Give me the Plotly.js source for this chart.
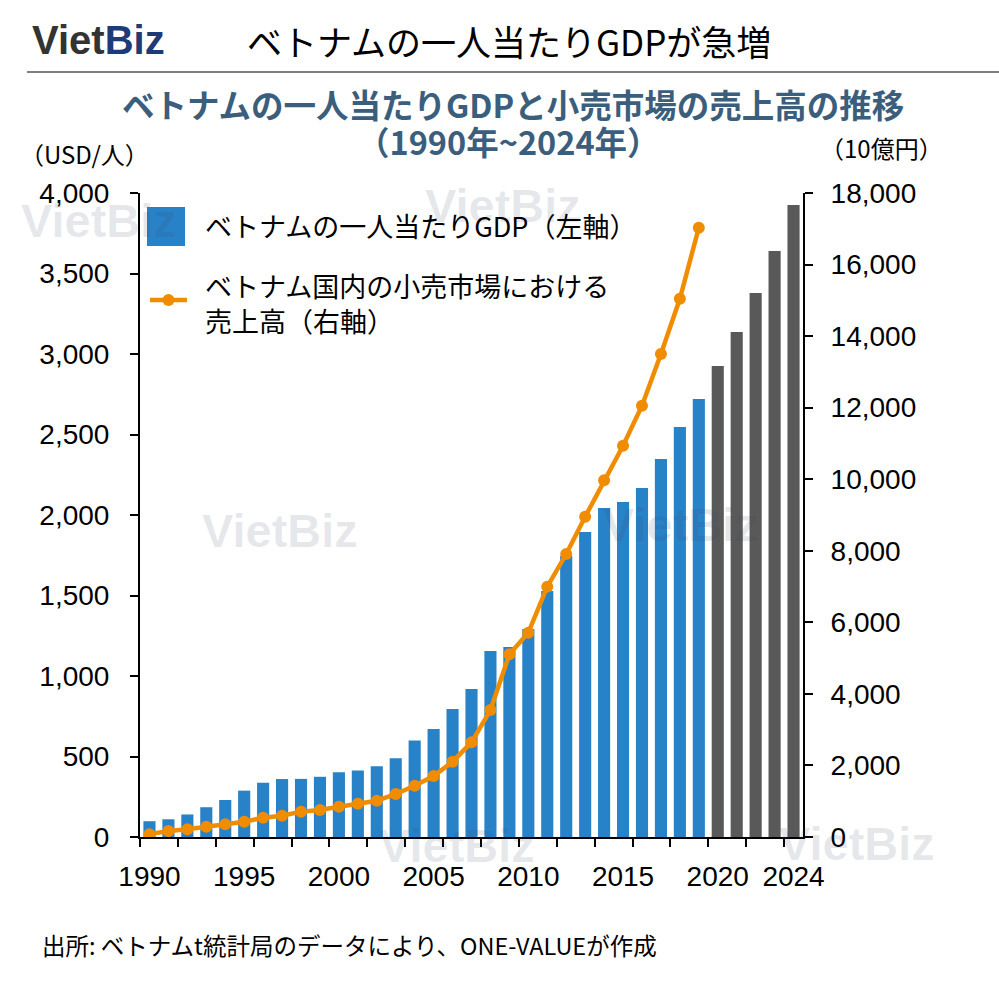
<!DOCTYPE html>
<html><head><meta charset="utf-8">
<script src="https://cdn.plot.ly/plotly-3.0.1.min.js"></script>
<style>html,body{margin:0;padding:0;background:#fff}</style>
</head><body><div id="chart" style="width:999px;height:983px"></div>
<script>
// ---- data ----
const years = [1990,1991,1992,1993,1994,1995,1996,1997,1998,1999,2000,2001,2002,2003,2004,2005,2006,2007,2008,2009,2010,2011,2012,2013,2014,2015,2016,2017,2018,2019,2020,2021,2022,2023,2024];
const gdpPerCapita = [98,110,140,185,230,288,337,360,361,374,402,413,440,489,600,671,795,919,1155,1180,1292,1528,1745,1894,2043,2081,2168,2348,2547,2720,2925,3137,3379,3640,3925];
const retailYears = [1990,1991,1992,1993,1994,1995,1996,1997,1998,1999,2000,2001,2002,2003,2004,2005,2006,2007,2008,2009,2010,2011,2012,2013,2014,2015,2016,2017,2018,2019];
const retailSales = [80,165,215,288,355,428,540,596,708,755,848,931,1015,1202,1434,1705,2105,2646,3549,5105,5711,6997,7909,8952,9969,10936,12054,13499,15045,17029];
const xTickYears = [1990,1995,2000,2005,2010,2015,2020,2024];
const gdpName = 'ベトナムの一人当たりGDP（左軸）';
const retailName1 = 'ベトナム国内の小売市場における';
const retailName2 = '売上高（右軸）';

// ---- layout helpers ----
const W = 999, H = 983;
const L = 140, R = 803, T = 193, B = 837;
const px = x => (x - L) / (R - L);
const py = y => (B - y) / (B - T);
const JP = '"Noto Sans CJK JP", "Liberation Sans", sans-serif';
const AR = '"Liberation Sans", Arial, sans-serif';
const blue = '#2882c8', gray = '#595959', orange = '#f08c00';

const barColors = years.map(y => y >= 2020 ? gray : blue);

const traces = [
  {type:'bar', x: years, y: gdpPerCapita, marker:{color: barColors}, width:0.64, name: gdpName, hoverinfo:'x+y'},
  {type:'scatter', mode:'lines+markers', x: retailYears, y: retailSales, yaxis:'y2',
   line:{color: orange, width:4.5}, marker:{color: orange, size:12}, name: retailName1 + retailName2}
];

function txt(text, x, y, size, opts) {
  return Object.assign({text, x: px(x), y: py(y), xref:'paper', yref:'paper', showarrow:false,
    xanchor:'left', yanchor:'middle', font:{family: JP, size, color:'#000'}}, opts || {});
}
const wm = (x, y) => ({text:'VietBiz', x: px(x), y: py(y), xref:'paper', yref:'paper', showarrow:false,
  xanchor:'center', yanchor:'middle', font:{family: AR, size:47, color:'rgba(60,70,100,0.12)', weight:'bold'}});

const annotations = [
  wm(99, 220), wm(503, 205), wm(280, 530), wm(681, 524), wm(457, 845), wm(857, 843),
  txt('<b><span style="color:#333333">Viet</span><span style="color:#1f3a78">Biz</span></b>', 30, 40, 40, {font:{family: AR, size:40}}),
  txt('ベトナムの一人当たりGDPが急増', 509, 40, 35, {xanchor:'center'}),
  txt('<b>ベトナムの一人当たりGDPと小売市場の売上高の推移</b>', 513, 103, 32.5, {xanchor:'center', font:{family: JP, size:32.5, color:'#3a5e7c'}}),
  txt('<b>（1990年~2024年）</b>', 508, 140, 32.5, {xanchor:'center', font:{family: JP, size:32.5, color:'#3a5e7c'}}),
  txt('（USD/人）', 18, 153, 24),
  txt('（10億円）', 818, 147, 24),
  txt(gdpName, 203, 226, 27),
  txt(retailName1, 203, 285, 27),
  txt(retailName2, 203, 320, 27),
  txt('出所: ベトナムt統計局のデータにより、ONE-VALUEが作成', 40, 945, 23.5)
];

const shapes = [
  {type:'line', xref:'paper', yref:'paper', x0: px(27), x1: px(999), y0: py(72), y1: py(72), line:{color:'#7f7f7f', width:2}},
  {type:'rect', xref:'paper', yref:'paper', x0: px(147), x1: px(185), y0: py(246), y1: py(207), fillcolor: blue, line:{width:0}, layer:'above'},
  {type:'line', xref:'paper', yref:'paper', x0: px(150), x1: px(187), y0: py(300), y1: py(300), line:{color: orange, width:4.5}, layer:'above'},
  {type:'circle', xref:'paper', yref:'paper', x0: px(162.5), x1: px(174.5), y0: py(306), y1: py(294), fillcolor: orange, line:{width:0}, layer:'above'}
];

const axisCommon = {showgrid:false, zeroline:false, showline:true, linecolor:'#000', linewidth:2,
  ticks:'outside', ticklen:8, tickwidth:2, tickcolor:'#000', tickfont:{family: AR, size:28, color:'#000'}};

const layout = {
  width: W, height: H, margin:{l:L, r:W-R, t:T, b:H-B, pad:0},
  paper_bgcolor:'#fff', plot_bgcolor:'#fff', showlegend:false,
  xaxis: Object.assign({}, axisCommon, {range:[1989.5, 2024.5], tickmode:'array', tickvals: xTickYears,
    ticks:'', ticklabelstandoff: 13,
    minor:{ticks:'outside', tickmode:'linear', tick0:1989.5, dtick:2, ticklen:8, tickwidth:2, tickcolor:'#000', showgrid:false}}),
  yaxis: Object.assign({}, axisCommon, {range:[0,4000], dtick:500, tick0:0, tickformat:',d', ticklabelstandoff: 15}),
  yaxis2: Object.assign({}, axisCommon, {range:[0,18000], dtick:2000, tick0:0, tickformat:',d', overlaying:'y', side:'right', ticklabelstandoff: 12}),
  annotations, shapes
};

Plotly.newPlot('chart', traces, layout, {displayModeBar:false, staticPlot:true});
</script>
</body></html>
